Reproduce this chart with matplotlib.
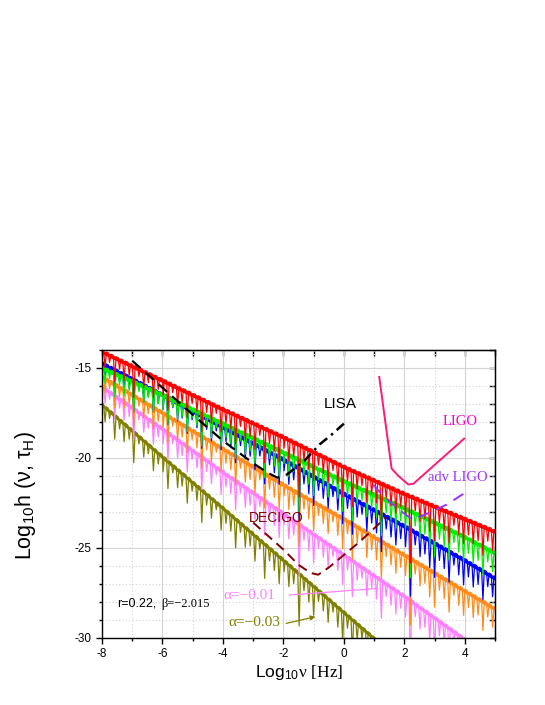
import matplotlib
matplotlib.use("Agg")
import matplotlib.pyplot as plt
from matplotlib.ticker import MultipleLocator
import numpy as np

plt.rcParams['font.family'] = ['Liberation Sans', 'DejaVu Sans']
plt.rcParams['axes.unicode_minus'] = False
plt.rcParams['mathtext.fontset'] = 'custom'
plt.rcParams['mathtext.rm'] = 'Liberation Sans'
plt.rcParams['mathtext.it'] = 'Liberation Sans:italic'
plt.rcParams['mathtext.sf'] = 'Liberation Serif'

# upper envelope of each spectrum, read at these frequencies
env_x = [-8, -6, -4, -2, 0, 2, 4, 5]
red_top = [-14.0, -15.6, -17.2, -18.75, -20.4, -21.9, -23.3, -24.0]
green_top = [-14.9, -16.4, -18.0, -19.6, -21.2, -22.7, -24.3, -25.2]
blue_top = [-14.65, -16.4, -18.2, -20.0, -21.9, -23.7, -25.6, -26.6]
orange_top = [-15.4, -17.4, -19.4, -21.4, -23.3, -25.3, -27.3, -28.3]
pink_top = [-15.95, -18.3, -20.7, -23.0, -25.3, -27.6, -30.0, -31.2]
olive_top = [-16.95, -19.85, -22.7, -25.6, -28.5, -31.4, -34.3, -35.7]

# positions and depths of the oscillation dips (shared by all curves)
dip_x = [-7.9, -7.75, -7.58, -7.42, -7.27, -7.1, -6.95, -6.78, -6.62, -6.47,
         -6.3, -6.14, -5.98, -5.82, -5.66, -5.5, -5.35, -5.18, -5.02, -4.86,
         -4.7, -4.54, -4.38, -4.22, -4.06, -3.9, -3.74, -3.58, -3.42, -3.26,
         -3.1, -2.94, -2.78, -2.62, -2.46, -2.3, -2.14, -1.98, -1.82, -1.66,
         -1.48, -1.32, -1.16, -1.0, -0.84, -0.68, -0.52, -0.36, -0.2, -0.04,
         0.12, 0.28, 0.44, 0.6, 0.76, 0.92, 1.08, 1.24, 1.4, 1.56,
         1.72, 1.88, 2.04, 2.2, 2.36, 2.52, 2.68, 2.84, 3.0, 3.16,
         3.32, 3.48, 3.64, 3.8, 3.96, 4.12, 4.28, 4.44, 4.6, 4.76,
         4.92]
dip_depth = [0.9, 0.5, 1.4, 0.6, 1.1, 0.7, 1.8, 0.5, 1.0, 0.6,
             1.3, 0.7, 0.9, 1.6, 0.5, 1.1, 0.8, 1.5, 0.6, 0.9,
             1.9, 0.7, 1.2, 0.5, 1.4, 0.8, 1.0, 1.7, 0.6, 1.2,
             0.9, 1.5, 0.6, 2.0, 0.8, 1.1, 1.6, 0.7, 1.3, 0.9,
             3.0, 0.8, 1.2, 1.7, 0.7, 1.0, 1.4, 0.6, 1.2, 1.8,
             0.8, 2.1, 1.0, 0.7, 1.5, 0.9, 1.3, 2.2, 0.8, 1.1,
             1.4, 0.9, 1.2, 3.8, 0.8, 1.3, 1.0, 1.6, 2.0, 0.9,
             1.2, 1.8, 0.7, 1.1, 1.5, 0.9, 1.3, 1.0, 1.7, 0.8,
             1.2]

# detector sensitivity curves
lisa_x = [-7.0, -6.0, -5.0, -4.0, -3.0, -2.5, -2.2, -1.9]
lisa_y = [-14.6, -16.1, -17.6, -19.05, -20.3, -20.85, -21.1, -20.95]
lisa_rise_x = [-1.9, -1.3, -0.8, -0.4, 0.0]
lisa_rise_y = [-20.95, -20.15, -19.25, -18.7, -18.1]
decigo_x = [-3.0, -2.5, -2.0, -1.5, -1.1, -0.85, -0.5, 0.0, 0.5, 0.95, 1.4]
decigo_y = [-23.6, -24.35, -25.1, -25.95, -26.4, -26.5, -26.1, -25.4, -24.7, -24.0, -23.3]
ligo_x = [1.17, 1.58, 1.8, 2.13, 2.3, 3.98]
ligo_y = [-15.5, -20.6, -21.0, -21.48, -21.44, -18.93]
adv_ligo_x = [0.97, 1.3, 1.63, 1.92, 2.2, 2.4, 2.9, 3.4, 4.0]
adv_ligo_y = [-21.5, -22.1, -22.6, -23.0, -23.35, -23.35, -23.0, -22.6, -21.95]

fig = plt.figure(figsize=(5.45, 7.05), dpi=100)
ax = fig.add_axes([0.1872, 0.0955, 0.7211, 0.4081])

band = 0.22
half_w = 0.045
curves = [(olive_top, '#808000'), (pink_top, '#ff80ff'), (orange_top, '#ff8c1a'),
          (blue_top, '#0000ff'), (green_top, '#00ee00'), (red_top, '#ff0000')]
for top, col in curves:
    top = np.array(top)
    # saw-tooth line: envelope with a narrow V at each dip
    xs, ds = list(env_x), [0.0] * len(env_x)
    for d, k in zip(dip_x, dip_depth):
        xs += [d - half_w, d, d + half_w]
        ds += [0.0, k, 0.0]
    order = np.argsort(xs, kind='stable')
    xs = np.array(xs)[order]
    ys = np.interp(xs, env_x, top) - np.array(ds)[order]
    ax.fill_between(env_x, top, top - band, color=col, lw=0, zorder=2)
    ax.plot(xs, ys, color=col, lw=0.9, zorder=2)

ax.plot(lisa_x, lisa_y, color='black', lw=1.6, dashes=(5, 3), zorder=4)
ax.plot(lisa_rise_x, lisa_rise_y, color='black', lw=1.8, dashes=(4, 2, 1, 2), zorder=4)
ax.plot(decigo_x, decigo_y, color='#800000', lw=1.4, dashes=(5, 3), zorder=4)
ax.plot(ligo_x, ligo_y, color='#ff1a75', lw=1.4, zorder=4)
ax.plot(adv_ligo_x, adv_ligo_y, color='#9933ff', lw=1.4, dashes=(6, 4), zorder=4)

ax.text(-0.13, -17.0, 'LISA', fontsize=11, ha='center', va='center', zorder=5)
ax.text(-2.23, -23.35, 'DECIGO', fontsize=10, color='#800000', ha='center', va='center', zorder=5)
ax.text(3.83, -17.98, 'LIGO', fontsize=10.5, color='#ff00cc', family='Liberation Serif',
        ha='center', va='center', zorder=5)
ax.text(3.78, -21.1, 'adv LIGO', fontsize=10.5, color='#9933ff', family='Liberation Serif',
        ha='center', va='center', zorder=5)
ax.text(-7.51, -28.1, 'r=0.22,', fontsize=9, ha='left', va='center', zorder=5)
ax.text(-6.03, -28.1, 'β=−2.015', fontsize=9, family='Liberation Serif', ha='left', va='center', zorder=5)
ax.text(-4.0, -27.66, 'α=−0.01', fontsize=11, color='#ff80ff', family='Liberation Serif',
        ha='left', va='center', zorder=5)
ax.text(-3.82, -29.15, 'α=−0.03', fontsize=11, color='#808000', family='Liberation Serif',
        ha='left', va='center', zorder=5)
ax.annotate('', xy=(1.14, -27.26), xytext=(-1.9, -27.64),
            arrowprops=dict(arrowstyle='-', color='#ff80ff', lw=0.9), zorder=5)
ax.annotate('', xy=(-0.85, -28.8), xytext=(-2.0, -29.24),
            arrowprops=dict(arrowstyle='-|>', color='#808000', lw=0.9, mutation_scale=7), zorder=5)

ax.set_xlim(-8, 5)
ax.set_ylim(-30, -14)
ax.xaxis.set_major_locator(MultipleLocator(2))
ax.xaxis.set_minor_locator(MultipleLocator(1))
ax.yaxis.set_major_locator(MultipleLocator(5))
ax.yaxis.set_minor_locator(MultipleLocator(1))
ax.grid(which='major', color='#d4d4d4', lw=0.8, ls='-', zorder=0)
ax.grid(which='minor', color='#d4d4d4', lw=0.8, ls=(0, (1, 2)), zorder=0)
ax.set_axisbelow(True)
ax.tick_params(which='both', direction='out', top=False, right=False, labelsize=8.5, width=1.0)
ax.tick_params(which='major', length=4)
ax.tick_params(which='minor', length=2.5)
for sp in ax.spines.values():
    sp.set_linewidth(1.0)

# inward ticks on top and right
sec_x = ax.secondary_xaxis('top')
sec_x.xaxis.set_major_locator(MultipleLocator(1))
sec_x.tick_params(direction='in', length=4, width=1.0, labeltop=False)
sec_y = ax.secondary_yaxis('right')
sec_y.yaxis.set_major_locator(MultipleLocator(1))
sec_y.tick_params(direction='in', length=4, width=1.0, labelright=False)

ax.set_xlabel(r'Log$_{10}$$\mathsf{ν\ [Hz]}$', fontsize=12.5)
ax.xaxis.set_label_coords(0.501, -0.088)
ax.set_ylabel(r'Log$_{10}$h (ν, τ$_{\mathrm{H}}$)', fontsize=15.5)
ax.yaxis.set_label_coords(-0.163, 0.496)

fig.savefig('out.png', dpi=100)
